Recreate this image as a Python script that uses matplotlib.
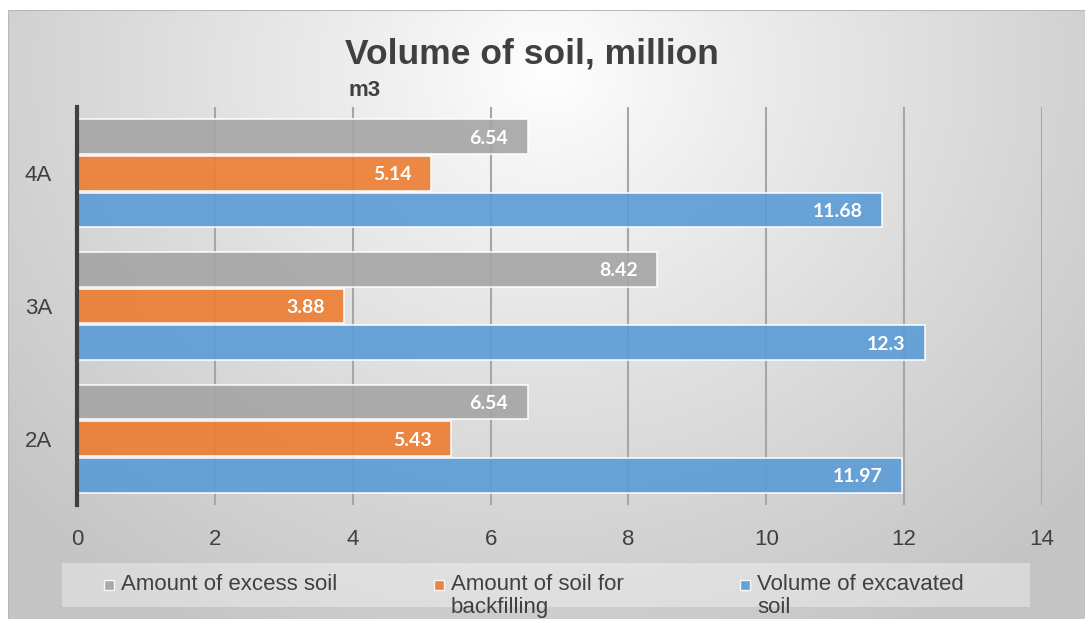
import numpy as np
import matplotlib
matplotlib.use("Agg")
import matplotlib.pyplot as plt
from matplotlib.patches import Rectangle

categories = ["2A", "3A", "4A"]
series_names = ["Amount of excess soil", "Amount of soil for backfilling", "Volume of excavated soil"]
legend_lines = ["Amount of excess soil", "Amount of soil for\nbackfilling", "Volume of excavated\nsoil"]
excess = [6.54, 8.42, 6.54]
backfill = [5.43, 3.88, 5.14]
excavated = [11.97, 12.3, 11.68]
x_ticks = [0, 2, 4, 6, 8, 10, 12, 14]
colors = ["#A5A5A5", "#ED7D31", "#5B9BD5"]

font = "Liberation Sans"
text_color = "#404040"

W, H = 1085, 619
fig = plt.figure(figsize=(W / 100, H / 100), dpi=100)
fig.patch.set_facecolor("white")

# background radial gradient panel
bg = fig.add_axes([8 / W, 0, 1 - 8 / W, 1 - 10 / H])
bg.set_axis_off()
yy, xx = np.mgrid[0:600, 0:1077]
cx, cy = 540, 60
r = np.sqrt(((xx - cx) / 720.0) ** 2 + ((yy - cy) / 640.0) ** 2)
t = np.clip(r, 0, 1) ** 0.9
c0, c1 = 1.0, 0.77
img = c0 * (1 - t) + c1 * t
bg.imshow(np.dstack([img, img, img]), aspect="auto", extent=[0, 1, 0, 1], origin="upper")
bg.set_xlim(0, 1)
bg.set_ylim(0, 1)
bg.plot([0, 0], [0, 1], color="#b8b8b8", lw=1.5, transform=bg.transAxes)
bg.plot([0, 1], [1, 1], color="#b8b8b8", lw=1.5, transform=bg.transAxes)

ax = fig.add_axes([77 / W, 1 - 505 / H, (1042 - 77) / W, (505 - 107) / H])
ax.patch.set_alpha(0)
y = np.arange(len(categories))
off = 0.276
hgt = 0.262
series = [excess, backfill, excavated]
offsets = [off, 0, -off]
for vals, col, o, name in zip(series, colors, offsets, series_names):
    bars = ax.barh(y + o, vals, height=hgt, color=col, alpha=0.9,
                   edgecolor=(1, 1, 1, 0.55), linewidth=1.2, zorder=2, label=name)
    for b, v in zip(bars, vals):
        ax.annotate(f"{v:g}", xy=(b.get_width(), b.get_y() + b.get_height() / 2),
                    xytext=(-14, -1), textcoords="offset points", ha="right", va="center",
                    color="white", fontsize=14, fontweight="bold", family="Lato", zorder=3)

ax.set_xlim(0, 14)
ax.set_ylim(-0.5, 2.5)
ax.set_xticks(x_ticks)
ax.set_xticklabels([str(v) for v in x_ticks])
ax.set_yticks(y)
ax.set_yticklabels(categories)
ax.grid(axis="x", color="#a6a6a6", lw=1.5, zorder=1)
ax.set_axisbelow(True)
for s in ["top", "right", "bottom"]:
    ax.spines[s].set_visible(False)
ax.spines["left"].set_color("#404040")
ax.spines["left"].set_linewidth(3)
ax.spines["left"].set_zorder(4)
ax.tick_params(length=0, labelsize=16, labelcolor=text_color)
ax.tick_params(axis="x", pad=17)
ax.tick_params(axis="y", pad=18)
for lab in ax.get_xticklabels() + ax.get_yticklabels():
    lab.set_family(font)

# title
fig.text(532 / W, 1 - 54 / H, "Volume of soil, million", ha="center", va="center",
         fontsize=25.5, fontweight="bold", color=text_color, family=font)
fig.text(349 / W, 1 - 90 / H, "m3", ha="left", va="center",
         fontsize=16, fontweight="bold", color=text_color, family=font)

# legend
fig.patches.append(Rectangle((62 / W, 1 - 607 / H), (1030 - 62) / W, (607 - 563) / H,
                             transform=fig.transFigure, facecolor="white", alpha=0.35,
                             edgecolor="none", zorder=1))
marker_x = [104, 434, 740]
for mx, col, lab in zip(marker_x, colors, legend_lines):
    fig.patches.append(Rectangle((mx / W, 1 - 590 / H), 10 / W, 10 / H, transform=fig.transFigure,
                                 facecolor=col, alpha=0.9, edgecolor=(1, 1, 1, 0.6), lw=1, zorder=2))
    fig.text((mx + 17) / W, 1 - 574 / H, lab, ha="left", va="top", fontsize=16,
             color=text_color, family=font, linespacing=1.12, zorder=3)

fig.savefig("out.png", dpi=100, facecolor=fig.get_facecolor())
